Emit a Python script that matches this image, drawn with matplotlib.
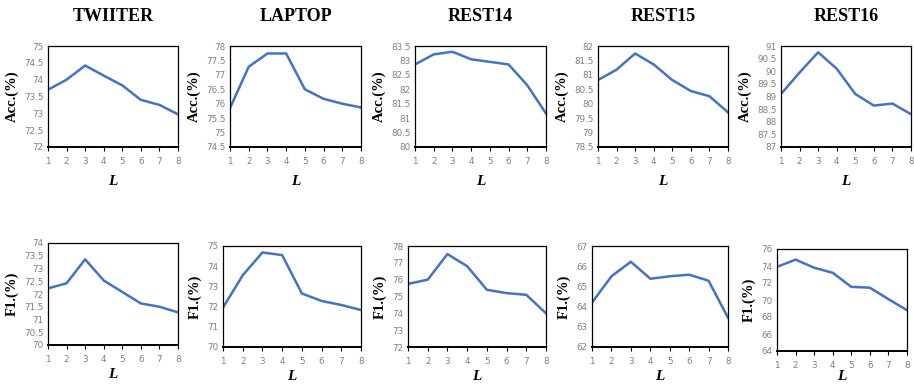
import matplotlib.pyplot as plt

L = [1, 2, 3, 4, 5, 6, 7, 8]
names = ['TWIITER', 'LAPTOP', 'REST14', 'REST15', 'REST16']

# accuracy per dataset
acc_twitter = [73.7, 74.0, 74.42, 74.12, 73.83, 73.4, 73.25, 72.97]
acc_laptop = [75.85, 77.28, 77.74, 77.74, 76.5, 76.17, 76.0, 75.87]
acc_rest14 = [82.86, 83.21, 83.3, 83.04, 82.95, 82.86, 82.14, 81.16]
acc_rest15 = [80.82, 81.18, 81.74, 81.36, 80.82, 80.44, 80.26, 79.7]
acc_rest16 = [89.1, 89.95, 90.75, 90.1, 89.1, 88.64, 88.72, 88.3]

# f1 per dataset
f1_twitter = [72.22, 72.42, 73.36, 72.53, 72.08, 71.63, 71.5, 71.28]
f1_laptop = [71.95, 73.55, 74.68, 74.55, 72.65, 72.28, 72.08, 71.83]
f1_rest14 = [75.75, 76.0, 77.52, 76.8, 75.4, 75.2, 75.1, 74.0]
f1_rest15 = [64.2, 65.5, 66.22, 65.38, 65.5, 65.58, 65.28, 63.45]
f1_rest16 = [73.9, 74.75, 73.8, 73.2, 71.55, 71.45, 70.1, 68.8]

acc_lim = [(72, 75, 0.5), (74.5, 78, 0.5), (80, 83.5, 0.5), (78.5, 82, 0.5), (87, 91, 0.5)]
f1_lim = [(70, 74, 0.5), (70, 75, 1), (72, 78, 1), (62, 67, 1), (64, 76, 2)]

W, H = 914, 387
fig = plt.figure(figsize=(W / 100, H / 100), dpi=100)

# axes boxes in pixels: left, right, top, bottom
acc_box = [(48, 178, 46, 147), (230, 361, 46, 147), (415, 546, 46, 147),
           (598, 728, 46, 147), (781, 911, 46, 147)]
f1_box = [(48, 178, 243, 345), (223, 361, 246, 347), (408, 546, 246, 347),
          (592, 728, 246, 347), (777, 907, 249, 351)]

serif = ['Liberation Serif', 'DejaVu Serif']
blue = '#4472C4'
gray = '#7f7f7f'


def fmt(v):
    return ('%g' % v)


def draw(box, y, lim, ylabel, title=None, xpad=7):
    l, r, t, b = box
    ax = fig.add_axes([l / W, 1 - b / H, (r - l) / W, (b - t) / H])
    ax.plot(L, y, color=blue, lw=1.8, solid_joinstyle='round')
    ax.set_xlim(1, 8)
    lo, hi, st = lim
    ax.set_ylim(lo, hi)
    n = int(round((hi - lo) / st))
    ticks = [lo + i * st for i in range(n + 1)]
    ax.set_yticks(ticks)
    ax.set_yticklabels([fmt(v) for v in ticks])
    ax.set_xticks(L)
    ax.tick_params(axis='both', labelsize=6.3, labelcolor=gray, length=3,
                   width=0.8, color='black', pad=4)
    ax.tick_params(axis='y', length=0, pad=3)
    for s in ax.spines.values():
        s.set_linewidth(0.9)
    ax.spines['bottom'].set_linewidth(1.4)
    ax.set_ylabel(ylabel, family=serif, fontweight='bold', fontsize=10.5, labelpad=4)
    ax.set_xlabel('L', family=serif, fontweight='bold', style='italic',
                  fontsize=11, labelpad=xpad)
    if title:
        ax.set_title(title, family=serif, fontweight='bold', fontsize=13, pad=18)
    return ax


accs = [acc_twitter, acc_laptop, acc_rest14, acc_rest15, acc_rest16]
f1s = [f1_twitter, f1_laptop, f1_rest14, f1_rest15, f1_rest16]
for i in range(5):
    draw(acc_box[i], accs[i], acc_lim[i], 'Acc.(%)', names[i])
    draw(f1_box[i], f1s[i], f1_lim[i], 'F1.(%)', xpad=3 if i < 4 else 0)

fig.savefig('out.png', dpi=100)
